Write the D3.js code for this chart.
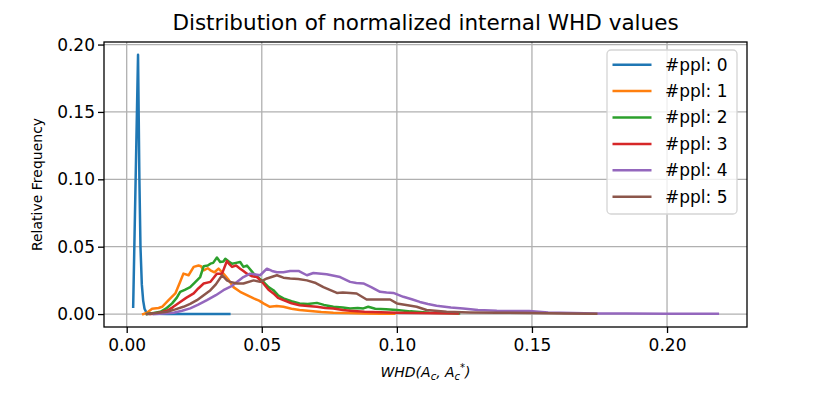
<!DOCTYPE html>
<html>
<head>
<meta charset="utf-8">
<script src="https://cdn.jsdelivr.net/npm/d3@7"></script>
<style>
  body { margin: 0; background: #fff; }
  svg { font-family: "DejaVu Sans", sans-serif; }
</style>
</head>
<body>
<svg id="chart" width="830" height="393"></svg>
<script>
// histogram curves: [WHD, relative frequency]
const ppl0 = [[0.0024,0.0054],[0.0042,0.1925],[0.0047,0.10],[0.0051,0.05],[0.0056,0.022],[0.0061,0.01],[0.0066,0.004],[0.0072,0.0015],[0.008,0.0006],[0.01,0.0002],[0.015,0.0001],[0.038,0]];
const ppl1 = [[0.0061,0],[0.0075,0.001],[0.0094,0.004],[0.0118,0.0045],[0.0131,0.0054],[0.0155,0.0103],[0.018,0.0153],[0.0198,0.0239],[0.021,0.030],[0.0229,0.0288],[0.0248,0.035],[0.0266,0.036],[0.0275,0.0355],[0.0285,0.0325],[0.030,0.034],[0.031,0.0325],[0.0325,0.031],[0.034,0.0337],[0.0358,0.030],[0.0375,0.026],[0.0395,0.020],[0.042,0.0165],[0.0445,0.014],[0.047,0.0116],[0.049,0.010],[0.0506,0.0079],[0.053,0.0054],[0.0555,0.006],[0.058,0.0054],[0.061,0.004],[0.064,0.003],[0.068,0.0022],[0.072,0.0015],[0.0765,0.001],[0.082,0.0007],[0.088,0.0004],[0.094,0.0003],[0.099,0.0002]];
const ppl2 = [[0.0075,0],[0.0100,0.0008],[0.0125,0.0017],[0.0145,0.004],[0.0168,0.0079],[0.0185,0.012],[0.0198,0.0165],[0.0215,0.018],[0.0235,0.020],[0.025,0.023],[0.0272,0.0275],[0.0285,0.0355],[0.030,0.036],[0.031,0.0374],[0.032,0.038],[0.0334,0.0419],[0.0346,0.0386],[0.0358,0.039],[0.0365,0.041],[0.0378,0.039],[0.039,0.0374],[0.0405,0.038],[0.042,0.0386],[0.0432,0.035],[0.0445,0.036],[0.047,0.030],[0.0488,0.027],[0.0506,0.0239],[0.0525,0.020],[0.0543,0.0177],[0.056,0.014],[0.058,0.0116],[0.061,0.0095],[0.064,0.0079],[0.067,0.0075],[0.0704,0.0083],[0.073,0.0068],[0.0765,0.0054],[0.08,0.0048],[0.0827,0.0042],[0.0855,0.0045],[0.0876,0.0042],[0.0894,0.0054],[0.092,0.004],[0.096,0.0035],[0.1,0.003],[0.105,0.002],[0.112,0.001],[0.118,0.0007],[0.123,0.0005]];
const ppl3 = [[0.0088,0],[0.012,0.001],[0.0149,0.0024],[0.017,0.005],[0.0198,0.009],[0.022,0.012],[0.0248,0.0153],[0.0265,0.019],[0.0285,0.0227],[0.031,0.0239],[0.0322,0.027],[0.0334,0.030],[0.0353,0.030],[0.0371,0.0394],[0.038,0.037],[0.039,0.035],[0.0405,0.036],[0.042,0.0337],[0.0432,0.032],[0.0445,0.030],[0.0465,0.028],[0.0482,0.0275],[0.0506,0.0227],[0.0525,0.018],[0.0543,0.0153],[0.056,0.012],[0.058,0.0103],[0.061,0.008],[0.064,0.0066],[0.067,0.006],[0.0704,0.0054],[0.0735,0.0045],[0.0765,0.0042],[0.08,0.003],[0.0827,0.0024],[0.088,0.0018],[0.094,0.0014],[0.1,0.001],[0.108,0.0008],[0.115,0.0006],[0.1226,0.0005]];
const ppl4 = [[0.010,0],[0.0135,0.0004],[0.0174,0.001],[0.0205,0.0025],[0.0235,0.0042],[0.0265,0.007],[0.0297,0.0103],[0.033,0.014],[0.0358,0.0177],[0.039,0.021],[0.0432,0.0275],[0.0457,0.030],[0.0494,0.0288],[0.0519,0.0337],[0.0538,0.032],[0.0556,0.031],[0.058,0.031],[0.0605,0.032],[0.0636,0.032],[0.0667,0.0288],[0.0691,0.0305],[0.074,0.0295],[0.079,0.0275],[0.0827,0.0239],[0.085,0.023],[0.0876,0.0227],[0.0905,0.02],[0.0938,0.0165],[0.0962,0.016],[0.0987,0.0157],[0.1024,0.0128],[0.1055,0.011],[0.1085,0.009],[0.1115,0.0075],[0.1147,0.0061],[0.12,0.0048],[0.1245,0.0042],[0.13,0.003],[0.137,0.0024],[0.143,0.0022],[0.149,0.0022],[0.156,0.0012],[0.165,0.0008],[0.174,0.0005],[0.185,0.0004],[0.2,0.0003],[0.2188,0.0003]];
const ppl5 = [[0.0075,0],[0.011,0.0008],[0.0149,0.0017],[0.018,0.0035],[0.021,0.0054],[0.0235,0.0075],[0.026,0.0103],[0.0285,0.014],[0.031,0.0177],[0.033,0.022],[0.0353,0.0288],[0.0371,0.025],[0.0383,0.0239],[0.0408,0.0227],[0.0432,0.0227],[0.047,0.025],[0.0494,0.0239],[0.0519,0.0264],[0.0556,0.0288],[0.058,0.027],[0.0605,0.0264],[0.0635,0.026],[0.0667,0.025],[0.0700,0.023],[0.0728,0.020],[0.0778,0.0157],[0.080,0.016],[0.0827,0.0157],[0.0851,0.0153],[0.0888,0.0108],[0.093,0.0108],[0.0975,0.0108],[0.1,0.0079],[0.104,0.0065],[0.1073,0.0054],[0.111,0.003],[0.1184,0.0017],[0.127,0.0012],[0.137,0.001],[0.15,0.0007],[0.162,0.0005],[0.1738,0.0003]];

const seriesNames = ["#ppl: 0", "#ppl: 1", "#ppl: 2", "#ppl: 3", "#ppl: 4", "#ppl: 5"];
const seriesData = [ppl0, ppl1, ppl2, ppl3, ppl4, ppl5];
const colors = ["#1f77b4", "#ff7f0e", "#2ca02c", "#d62728", "#9467bd", "#8c564b"];
const xTicks = [0, 0.05, 0.10, 0.15, 0.20];
const yTicks = [0, 0.05, 0.10, 0.15, 0.20];

const svg = d3.select("#chart");
const margin = {left: 104, right: 83, top: 42, bottom: 66};
const W = 830 - margin.left - margin.right,
      H = 393 - margin.top - margin.bottom;

const x = d3.scaleLinear().domain([-0.0084, 0.2296]).range([0, W]);
const y = d3.scaleLinear().domain([-0.0096, 0.2019]).range([H, 0]);

const g = svg.append("g").attr("transform", `translate(${margin.left},${margin.top})`);

// grid
g.append("g").selectAll("line").data(xTicks).join("line")
    .attr("x1", d => x(d)).attr("x2", d => x(d))
    .attr("y1", 0).attr("y2", H)
    .attr("stroke", "#b0b0b0").attr("stroke-width", 1.3);
g.append("g").selectAll("line").data(yTicks).join("line")
    .attr("y1", d => y(d)).attr("y2", d => y(d))
    .attr("x1", 0).attr("x2", W)
    .attr("stroke", "#b0b0b0").attr("stroke-width", 1.3);

// curves
const line = d3.line().x(d => x(d[0])).y(d => y(d[1]));
g.append("g").selectAll("path").data(seriesData).join("path")
    .attr("d", line)
    .attr("fill", "none")
    .attr("stroke", (d, i) => colors[i])
    .attr("stroke-width", 2.5)
    .attr("stroke-linejoin", "round")
    .attr("stroke-linecap", "square");

// axes
const xAxis = g.append("g").attr("transform", `translate(0,${H})`)
    .call(d3.axisBottom(x).tickValues(xTicks).tickFormat(d3.format(".2f")).tickSize(6).tickSizeOuter(0));
const yAxis = g.append("g")
    .call(d3.axisLeft(y).tickValues(yTicks).tickFormat(d3.format(".2f")).tickSize(6).tickSizeOuter(0));
[xAxis, yAxis].forEach(a => {
    a.select(".domain").remove();
    a.selectAll("line").attr("stroke", "#000").attr("stroke-width", 1.3);
    a.selectAll("text").attr("font-size", 17).attr("fill", "#000")
        .attr("font-family", "DejaVu Sans");
});
xAxis.selectAll("text").attr("dy", "0.95em").attr("y", 8);
yAxis.selectAll("text").attr("x", -9);

g.append("rect").attr("width", W).attr("height", H)
    .attr("fill", "none").attr("stroke", "#000").attr("stroke-width", 1.3);

// title and labels
svg.append("text").attr("x", margin.left + W / 2).attr("y", 30)
    .attr("text-anchor", "middle").attr("font-size", 21.5)
    .text("Distribution of normalized internal WHD values");

svg.append("text").attr("transform", `translate(42,${margin.top + H / 2}) rotate(-90)`)
    .attr("text-anchor", "middle").attr("font-size", 14)
    .text("Relative Frequency");

const xl = svg.append("text").attr("x", margin.left + W / 2).attr("y", 377)
    .attr("text-anchor", "middle").attr("font-size", 14).attr("font-style", "italic");
xl.append("tspan").text("WHD(A");
xl.append("tspan").attr("font-size", 10).attr("dy", 3).text("c");
xl.append("tspan").attr("dy", -3).text(", A");
xl.append("tspan").attr("font-size", 10).attr("dy", 3).text("c");
xl.append("tspan").attr("font-size", 10).attr("dy", -9).text("*");
xl.append("tspan").attr("dy", 6).text(")");

// legend
const lg = svg.append("g").attr("transform", "translate(607,50)");
lg.append("rect").attr("width", 130).attr("height", 164).attr("rx", 4)
    .attr("fill", "rgba(255,255,255,0.8)").attr("stroke", "#d5d5d5").attr("stroke-width", 1.3);
const items = lg.selectAll("g.item").data(seriesNames).join("g")
    .attr("class", "item")
    .attr("transform", (d, i) => `translate(0,${14.7 + i * 26.4})`);
items.append("line").attr("x1", 5.5).attr("x2", 44.5)
    .attr("stroke", (d, i) => colors[i]).attr("stroke-width", 2.5);
items.append("text").attr("x", 58).attr("dy", "0.35em").attr("font-size", 17).text(d => d);
</script>
</body>
</html>
